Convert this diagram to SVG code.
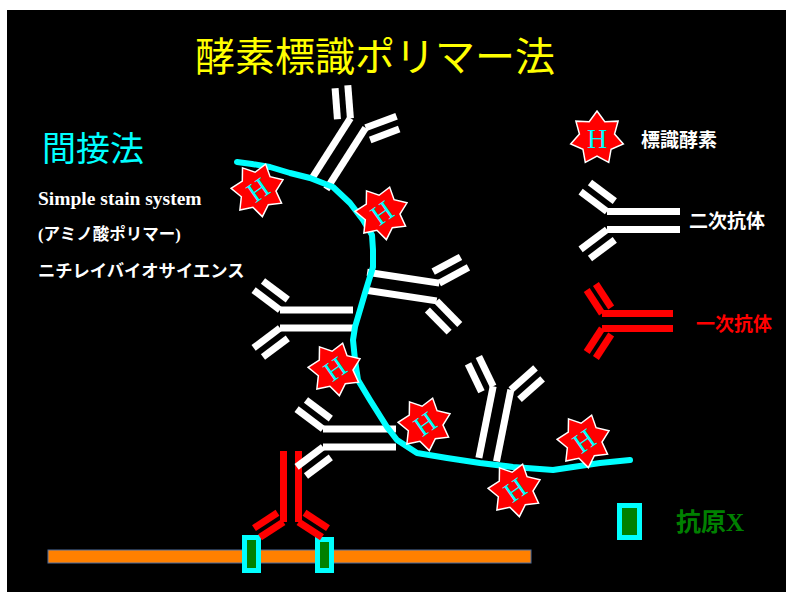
<svg xmlns="http://www.w3.org/2000/svg" xmlns:xlink="http://www.w3.org/1999/xlink" width="786" height="592" viewBox="0 0 786 592">
  <style>
    .title { font-family: "Noto Sans CJK JP", "Noto Sans", sans-serif; fill: #ffff00; font-size: 40px; }
    .sub { font-family: "Noto Sans CJK JP", sans-serif; fill: #00ffff; font-size: 34px; }
    .note { font-family: "Liberation Serif", "Noto Sans CJK JP", serif; font-weight: bold; fill: #ffffff; }
    .jp { font-family: "Noto Sans CJK JP", sans-serif; font-weight: bold; }
    .bar2 { stroke: #ffffff; stroke-width: 7; fill: none; }
    .bar1 { stroke: #ff0000; stroke-width: 7; fill: none; }
    .chain { stroke: #00ffff; stroke-width: 6; fill: none; stroke-linejoin: round; stroke-linecap: round; }
    .star { fill: #ff0000; stroke: #ffffff; stroke-width: 1.5; }
    .h { font-family: "Liberation Serif", serif; fill: #00ffff; font-size: 28px; text-anchor: middle; }
    .antigen { fill: #008000; stroke: #00ffff; stroke-width: 5; }
  </style>
  <defs>
    <!-- secondary antibody: hinge at origin, stem along +x -->
    <g id="ab2" class="bar2">
      <line x1="0" y1="-9" x2="73" y2="-9"/>
      <line x1="0" y1="9" x2="73" y2="9"/>
      <line x1="0" y1="-9" x2="-26.4" y2="-28.9"/>
      <line x1="7.8" y1="-19.4" x2="-17" y2="-38"/>
      <line x1="0" y1="9" x2="-26.4" y2="28.9"/>
      <line x1="7.8" y1="19.4" x2="-17" y2="38"/>
    </g>
    <!-- primary antibody: hinge at origin, stem along +x -->
    <g id="ab1" class="bar1">
      <line x1="0" y1="-7.5" x2="71" y2="-7.5"/>
      <line x1="0" y1="7.5" x2="71" y2="7.5"/>
      <line x1="0" y1="-7.5" x2="-15.3" y2="-31"/>
      <line x1="9.2" y1="-13.5" x2="-6.1" y2="-37"/>
      <line x1="0" y1="7.5" x2="-15.3" y2="31"/>
      <line x1="9.2" y1="13.5" x2="-6.1" y2="37"/>
    </g>
    <!-- enzyme label: seven-pointed star with H -->
    <g id="enz">
      <polygon class="star" points="0,-27 7.81,-16.22 21.11,-16.83 17.55,-4.00 26.32,6.01 14.07,11.22 11.72,24.33 0,18 -11.72,24.33 -14.07,11.22 -26.32,6.01 -17.55,-4.00 -21.11,-16.83 -7.81,-16.22"/>
      <text class="h" x="0" y="9.5">H</text>
    </g>
  </defs>

  <rect x="0" y="0" width="786" height="592" fill="#ffffff"/>
  <rect x="7" y="10" width="779" height="582" fill="#000000"/>

  <text class="title" x="195" y="71">酵素標識ポリマー法</text>
  <text class="sub" x="42" y="161">間接法</text>
  <text class="note" x="38" y="205" font-size="19.5">Simple stain system</text>
  <text class="note" x="38" y="240" font-size="16.5">(<tspan class="jp">アミノ酸ポリマー</tspan>)</text>
  <text class="note jp" x="38" y="277" font-size="17.3">ニチレイバイオサイエンス</text>

  <!-- tissue section with antigen sites -->
  <g id="section">
    <rect x="48" y="550" width="483" height="13" fill="#ff8000" stroke="#4f6fa0" stroke-width="1"/>
  </g>
  <g id="antigen1"><rect class="antigen" x="244.5" y="537.5" width="14" height="33"/></g>
  <g id="antigen2"><rect class="antigen" x="317.5" y="539.5" width="14" height="31"/></g>

  <!-- primary antibody bound to the antigen -->
  <g id="primary"><use xlink:href="#ab1" transform="translate(291,522) rotate(-90)"/></g>

  <!-- secondary antibodies carried by the polymer -->
  <g id="sec-a"><use xlink:href="#ab2" transform="translate(358,123) rotate(122.5)"/></g>
  <g id="sec-b"><use xlink:href="#ab2" transform="translate(280,319)"/></g>
  <g id="sec-c"><use xlink:href="#ab2" transform="translate(438,292) rotate(188.6)"/></g>
  <g id="sec-d"><use xlink:href="#ab2" transform="translate(323,438)"/></g>
  <g id="sec-e"><use xlink:href="#ab2" transform="translate(502,388) rotate(101.3)"/></g>

  <!-- amino acid polymer backbone -->
  <g id="connectors">
    <path class="chain" d="M237,162 L252,164 L270,167 L290,173 L310,178 L333,187 L350,203 L363,220 L372,235 L373,250 L373,267 L365,293 L355,327 L353,340 L355,360 L358,380 L370,400 L387,427 L397,440 L417,453 L447,458 L480,463 L513,467 L553,470 L573,467 L600,463 L630,460"/>
  </g>

  <!-- enzymes on the polymer -->
  <g id="enz1"><use xlink:href="#enz" transform="translate(258,190) rotate(-35)"/></g>
  <g id="enz2"><use xlink:href="#enz" transform="translate(382,213) rotate(-35)"/></g>
  <g id="enz3"><use xlink:href="#enz" transform="translate(335,369) rotate(-35)"/></g>
  <g id="enz4"><use xlink:href="#enz" transform="translate(425,424) rotate(-35)"/></g>
  <g id="enz5"><use xlink:href="#enz" transform="translate(515,490) rotate(-35)"/></g>
  <g id="enz6"><use xlink:href="#enz" transform="translate(584,441) rotate(-35)"/></g>

  <!-- legend -->
  <g id="legend-enzyme">
    <use xlink:href="#enz" transform="translate(597,138)"/>
    <text class="jp" x="641" y="147" font-size="19" fill="#ffffff">標識酵素</text>
  </g>
  <g id="legend-secondary">
    <use xlink:href="#ab2" transform="translate(607,220.5)"/>
    <text class="jp" x="689" y="228" font-size="19" fill="#ffffff">二次抗体</text>
  </g>
  <g id="legend-primary">
    <use xlink:href="#ab1" transform="translate(602,321)"/>
    <text class="jp" x="696" y="331" font-size="19" fill="#ff0000">一次抗体</text>
  </g>
  <g id="legend-antigen">
    <rect class="antigen" x="619.5" y="505.5" width="20" height="32"/>
    <text class="jp" x="676" y="531" font-size="25" fill="#008000">抗原<tspan font-family="Liberation Serif, serif">X</tspan></text>
  </g>
</svg>
